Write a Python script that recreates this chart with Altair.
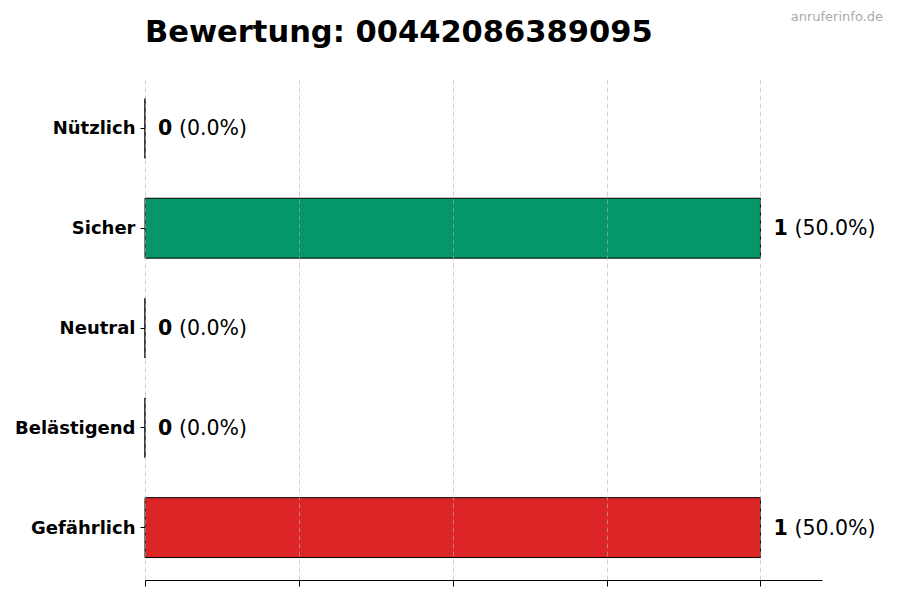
import altair as alt
import pandas as pd

categories = ["Nützlich", "Sicher", "Neutral", "Belästigend", "Gefährlich"]
counts = [0, 1, 0, 0, 1]
pct_labels = ["(0.0%)", "(50.0%)", "(0.0%)", "(0.0%)", "(50.0%)"]
colors = ["#2563eb", "#059669", "#9ca3af", "#f59e0b", "#dc2626"]
tick_values = [0, 0.25, 0.5, 0.75, 1.0]
title_text = "Bewertung: 00442086389095"
watermark = "anruferinfo.de"

df = pd.DataFrame({
    "cat": categories,
    "count": counts,
    "pct": pct_labels,
    "color": colors,
    "count_str": [str(c) for c in counts],
})

FONT = "DejaVu Sans"

y_enc = alt.Y(
    "cat:N",
    sort=categories,
    scale=alt.Scale(paddingInner=0.4, paddingOuter=0.225),
    axis=alt.Axis(
        title=None, domain=False, ticks=True, tickSize=5, tickColor="black",
        labelFontWeight="bold", labelFontSize=18, labelColor="black",
        labelFont=FONT, labelPadding=5, labelOffset=1, grid=False,
    ),
)
x_scale = alt.Scale(domain=[0, 1.1], nice=False, zero=True)

bars = alt.Chart(df).mark_bar(stroke="black", strokeWidth=1).encode(
    x=alt.X(
        "count:Q", scale=x_scale,
        axis=alt.Axis(
            title=None, values=tick_values, labels=False, ticks=True, tickSize=6,
            tickColor="black", domain=True, domainColor="black", grid=True,
            gridColor="#b0b0b0", gridOpacity=0.6, gridDash=[5, 3], zindex=1,
        ),
    ),
    y=y_enc,
    color=alt.Color("color:N", scale=None, legend=None),
)

count_text = alt.Chart(df).mark_text(
    align="left", baseline="middle", dx=13, dy=1, fontSize=20.5, fontWeight="bold",
    font=FONT, color="black",
).encode(
    x=alt.X("count:Q", scale=x_scale),
    y=alt.Y("cat:N", sort=categories),
    text="count_str:N",
)

pct_text = alt.Chart(df).mark_text(
    align="left", baseline="middle", dx=34, dy=1, fontSize=20.5, fontWeight="normal",
    font=FONT, color="black",
).encode(
    x=alt.X("count:Q", scale=x_scale),
    y=alt.Y("cat:N", sort=categories),
    text="pct:N",
)

title = alt.Chart(pd.DataFrame({"t": [title_text]})).mark_text(
    align="left", baseline="alphabetic", fontSize=30.5, fontWeight="bold",
    font=FONT, color="black",
).encode(x=alt.value(0), y=alt.value(-34), text="t:N")

wm = alt.Chart(pd.DataFrame({"t": [watermark]})).mark_text(
    align="right", baseline="middle", fontSize=13, color="#aaaaaa", font=FONT,
).encode(x=alt.value(738), y=alt.value(-59), text="t:N")

chart = alt.layer(bars, count_text, pct_text, title, wm).properties(
    width=677,
    height=504,
    autosize=alt.AutoSizeParams(type="none"),
    padding={"left": 137, "top": 68, "right": 70, "bottom": 12},
).configure_view(stroke=None)

chart.save("out.html", embed_options={"renderer": "svg", "actions": False})
